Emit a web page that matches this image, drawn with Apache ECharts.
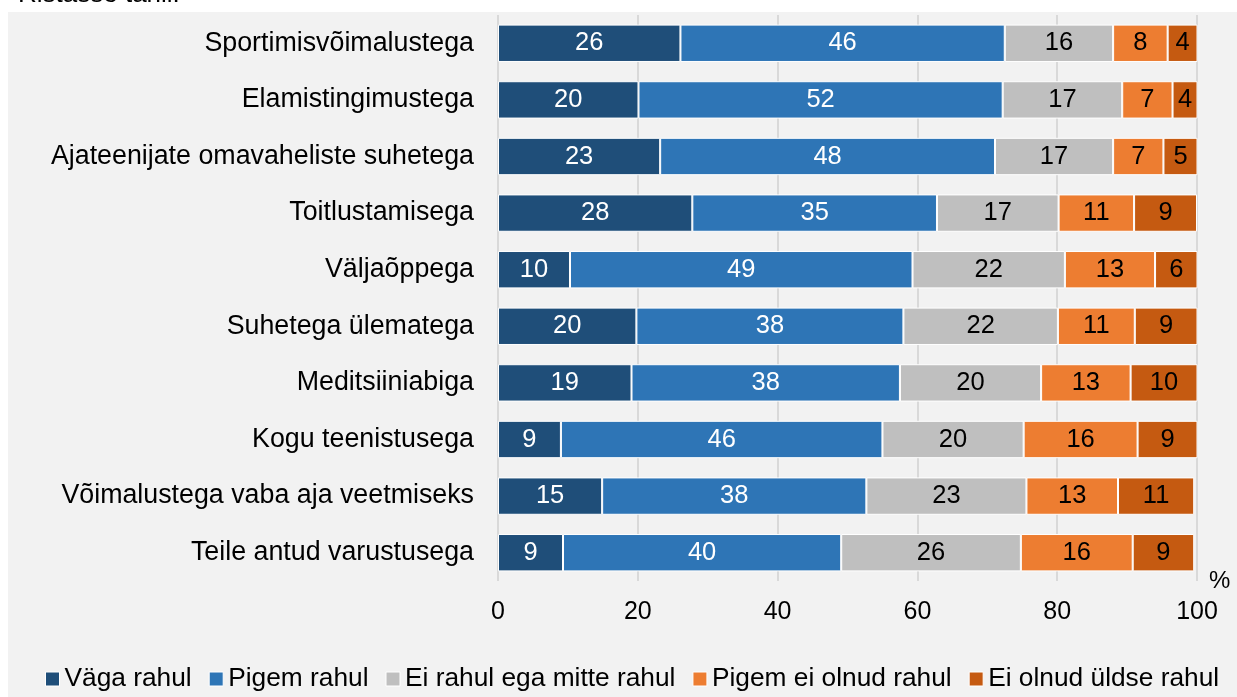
<!DOCTYPE html>
<html>
<head>
<meta charset="utf-8">
<script src="https://cdn.jsdelivr.net/npm/echarts@6/dist/echarts.min.js"></script>
<style>
  html, body { margin: 0; padding: 0; background: #fff; }
  #chart { width: 1237px; height: 697px; }
</style>
</head>
<body>
<div id="chart"></div>
<script>
// categories top to bottom
const categories = [
  'Sportimisvõimalustega',
  'Elamistingimustega',
  'Ajateenijate omavaheliste suhetega',
  'Toitlustamisega',
  'Väljaõppega',
  'Suhetega ülematega',
  'Meditsiiniabiga',
  'Kogu teenistusega',
  'Võimalustega vaba aja veetmiseks',
  'Teile antud varustusega'
];
const seriesNames = ['Väga rahul', 'Pigem rahul', 'Ei rahul ega mitte rahul', 'Pigem ei olnud rahul', 'Ei olnud üldse rahul'];
// values (%), labels show rounded
const vagaRahul     = [26.1, 20.1, 23.2, 27.8, 10.3, 19.8, 19.1, 9.0, 14.9, 9.3];
const pigemRahul    = [46.4, 52.1, 47.9, 35.0, 49.0, 38.2, 38.4, 46.0, 37.8, 39.8];
const eiRahulEga    = [15.5, 17.1, 16.9, 17.4, 21.8, 22.1, 20.2, 20.2, 22.9, 25.7];
const pigemEiRahul  = [7.8, 7.2, 7.2, 10.8, 12.9, 11.0, 12.8, 16.3, 13.1, 16.0];
const eiOlnudRahul  = [4.3, 3.7, 4.9, 9.0, 6.1, 9.0, 9.6, 8.6, 10.9, 8.8];
const xTicks = [0, 20, 40, 60, 80, 100];

const colors = ['#1f4e79', '#2e75b6', '#bfbfbf', '#ed7d31', '#c55a11'];
const labelColors = ['#fff', '#fff', '#000', '#000', '#000'];
const allData = [vagaRahul, pigemRahul, eiRahulEga, pigemEiRahul, eiOlnudRahul];

const font = 'Liberation Sans, Arial, sans-serif';

let mychart = echarts.init(document.getElementById('chart'));
mychart.setOption({
  backgroundColor: '#fff',
  animation: false,
  textStyle: { fontFamily: font },
  graphic: [
    { type: 'rect', left: 8, top: 12, shape: { width: 1229, height: 685 }, style: { fill: '#f2f2f2' }, z: -10 },
    { type: 'text', left: 18, top: -18, style: { text: 'Ristasse tahil.', font: '26px ' + font, fill: '#000' } }
  ],
  grid: { left: 498, right: 40, top: 15, bottom: 116 },
  legend: {
    data: seriesNames,
    left: 40,
    top: 661,
    itemWidth: 14,
    itemHeight: 14,
    itemGap: 17,
    icon: 'rect',
    itemStyle: { borderColor: '#fff', borderWidth: 1 },
    textStyle: { fontSize: 26.3, color: '#000', fontFamily: font, padding: [0, 0, 0, 0] }
  },
  xAxis: {
    type: 'value',
    min: 0,
    max: 100,
    interval: 20,
    name: '%',
    nameLocation: 'end',
    nameGap: 12,
    nameTextStyle: { fontSize: 24, color: '#000', padding: [14, 0, 0, 0] },
    axisLine: { show: false },
    axisTick: { show: false },
    splitLine: { show: true, lineStyle: { color: '#d9d9d9', width: 2 } },
    axisLabel: {
      fontSize: 25, color: '#000', margin: 19,
      formatter: v => xTicks.includes(v) ? String(v) : ''
    }
  },
  yAxis: {
    type: 'category',
    data: categories,
    inverse: true,
    axisLine: { show: false },
    axisTick: { show: false },
    axisLabel: { fontSize: 26.8, color: '#000', margin: 24 }
  },
  series: seriesNames.map((name, i) => ({
    name: name,
    type: 'bar',
    stack: 'total',
    barCategoryGap: '34%',
    data: allData[i],
    itemStyle: { color: colors[i], borderColor: '#fff', borderWidth: 1 },
    label: {
      show: true,
      position: 'inside',
      fontSize: 25.5,
      color: labelColors[i],
      formatter: p => Math.round(p.value)
    }
  }))
});
</script>
</body>
</html>
